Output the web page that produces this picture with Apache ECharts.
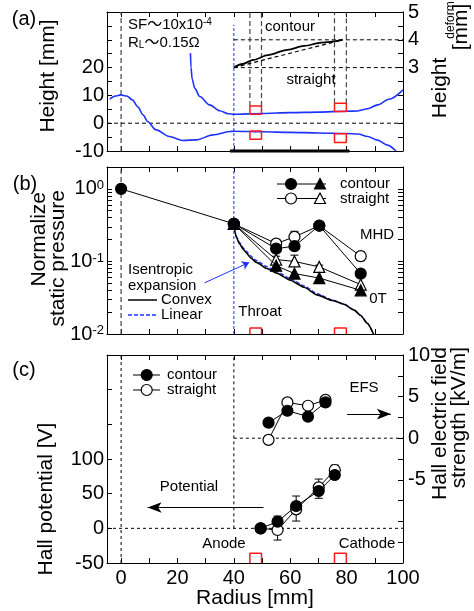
<!DOCTYPE html>
<html>
<head>
<meta charset="utf-8">
<title>MHD channel: height, pressure, Hall potential</title>
<script src="https://cdn.jsdelivr.net/npm/echarts@6.0.0/dist/echarts.min.js"></script>
<style>
  html, body { margin: 0; padding: 0; background: #fff; }
  #chart { width: 474px; height: 611px; }
</style>
</head>
<body>
<div id="chart"></div>
<script>
// ---------- (a) channel shape ----------
const lowerWallX = [-4.0, -2.0, -0.1, 2.0, 4.0, 6.0, 7.8, 9.4, 12.4, 17.1, 21.9, 26.7, 32.6, 38.6, 40, 50, 60, 70, 80, 84, 87.5, 91, 94.5, 97.5];
const lowerWallY = [8.7, 9.8, 10.2, 9.8, 8.4, 5.8, 3.0, 0.6, -2.4, -4.8, -6.2, -6.0, -4.2, -3.0, -2.9, -3.1, -3.3, -3.5, -3.7, -3.9, -4.8, -6.1, -7.9, -10];
const upperWallX = [24.6, 24.8, 25.2, 26.1, 27.9, 31.4, 35.0, 38.0, 40, 50, 60, 70, 80, 84, 87.5, 91, 95, 100];
const upperWallY = [25.2, 20.0, 16.0, 12.6, 9.6, 6.6, 4.5, 3.4, 3.2, 3.5, 3.8, 4.0, 4.3, 4.4, 5.2, 6.6, 8.6, 12.0];
// deformation of the electrode wall (right axis)
const contourDefX = [40, 43, 47, 52, 59, 65, 71, 78.6];
const contourDefY = [3.0, 3.13, 3.28, 3.45, 3.64, 3.78, 3.9, 4.0];
const straightDefX = [40, 78.6];
const straightDefY = [3.0, 4.0];
// electrodes
const elecX0 = [45.7, 75.7];
const elecX1 = [49.8, 79.9];
const elecUpTop = [6.2, 7.2];
const elecUpBot = [3.2, 4.2];
const elecLowTop = [-2.8, -3.8];
const elecLowBot = [-5.8, -6.9];
const measureRange = [38.6, 81.0];

// ---------- (b) static pressure ----------
const inletX = [0, 40];
const inletP = [1.0, 0.33];
const tapX = [40, 55, 61.5, 70.3, 85];
const contourMHD = [0.33, 0.150, 0.162, 0.312, 0.068];
const straightMHD = [0.33, 0.176, 0.218, 0.31, 0.118];
const contour0T = [0.33, 0.0875, 0.068, 0.059, 0.040];
const straight0T = [0.33, 0.106, 0.100, 0.084, 0.048];
const pErrX = [61.5, 55, 61.5, 70.3, 85];
const pErrLo = [0.19, 0.092, 0.086, 0.077, 0.102];
const pErrHi = [0.26, 0.118, 0.122, 0.089, 0.135];
const convexX = [40, 40.4, 41, 42, 43.5, 44.5, 46, 48, 51.7, 55.2, 60, 65, 69.5, 75, 79, 82.6, 85, 87.4, 89.5];
const convexP = [0.33, 0.25, 0.21, 0.175, 0.145, 0.13, 0.112, 0.097, 0.08, 0.069, 0.055, 0.044, 0.0346, 0.029, 0.0257, 0.0215, 0.018, 0.014, 0.01];
const linearX = [40, 40.4, 41, 42, 43.5, 44.5, 46, 48, 51.7, 55.2, 60, 65, 69.5, 75, 79, 82.6, 85, 87.4, 89.5];
const linearP = [0.33, 0.26, 0.22, 0.183, 0.152, 0.137, 0.119, 0.103, 0.085, 0.073, 0.058, 0.046, 0.036, 0.0295, 0.026, 0.0215, 0.018, 0.014, 0.01];

// ---------- (c) Hall potential / field ----------
const potX = [49.5, 55.5, 62.1, 70.1, 75.8];
const contourPot = [0, 9.6, 32.2, 53.8, 76.9];
const straightPot = [0, -2.4, 27.4, 59.1, 84.1];
const potErrLo = [-16.9, 10.5, 43.3, 76];
const potErrHi = [17.7, 46.6, 71.1, 91.3];
const potErrX = [55.5, 62.1, 70.1, 75.8];
const efsX = [52.3, 59.0, 66.3, 72.5];
const contourEfs = [1.87, 3.3, 2.6, 4.3];
const straightEfs = [-0.2, 4.3, 3.9, 4.6];

// ---------- ticks ----------
const radiusTicks = [0, 10, 20, 30, 40, 50, 60, 70, 80, 90, 100];
const radiusLabels = [0, 20, 40, 60, 80, 100];
const heightTicks = [-10, -5, 0, 5, 10, 15, 20, 25, 30, 35, 40];
const heightLabels = [-10, 0, 10, 20];
const deformTicks = [0, 0.5, 1, 1.5, 2, 2.5, 3, 3.5, 4, 4.5, 5];
const deformLabels = [3, 4, 5];
const pressTicks = [0.01, 0.02, 0.03, 0.04, 0.05, 0.06, 0.07, 0.08, 0.09, 0.1, 0.2, 0.3, 0.4, 0.5, 0.6, 0.7, 0.8, 0.9, 1, 2];
const pressLabels = [0.01, 0.1, 1];
const potTicks = [-50, 0, 50, 100, 150, 200, 250];
const potLabels = [-50, 0, 50, 100];
const efsTicks = [-15, -12.5, -10, -7.5, -5, -2.5, 0, 2.5, 5, 7.5, 10];
const efsLabels = [-5, 0, 5, 10];

const FONT = '"Liberation Sans", Arial, "Noto Sans CJK JP", sans-serif';
const BLUE = '#1e32ff';
const RED = '#ff1a1a';
const pts = (xs, ys) => xs.map((x, i) => [x, ys[i]]);

function xAx(grid, pos, labels) {
  return {
    type: 'value', gridIndex: grid, position: pos, min: -5, max: 100,
    axisLine: { onZero: false, lineStyle: { color: '#000', width: 1 } },
    axisTick: { inside: true, length: 5, customValues: radiusTicks, lineStyle: { color: '#000' } },
    axisLabel: { show: labels, customValues: radiusLabels, margin: 5, color: '#000', fontSize: 20, fontFamily: FONT },
    splitLine: { show: false }
  };
}
function yAx(grid, pos, min, max, ticks, labels, extra) {
  return Object.assign({
    type: 'value', gridIndex: grid, position: pos, min: min, max: max,
    axisLine: { onZero: false, lineStyle: { color: '#000', width: 1 } },
    axisTick: { inside: true, length: 5, customValues: ticks, lineStyle: { color: '#000' } },
    axisLabel: { show: !!labels, customValues: labels || [], margin: pos === 'left' ? 3 : 5, color: '#000', fontSize: 20, fontFamily: FONT },
    splitLine: { show: false }
  }, extra || {});
}
function logAx(pos, labels) {
  return {
    type: 'log', logBase: 10, gridIndex: 1, position: pos, min: 0.01, max: 2,
    axisLine: { onZero: false, lineStyle: { color: '#000', width: 1 } },
    axisTick: { inside: true, length: 5, customValues: pressTicks, lineStyle: { color: '#000' } },
    axisLabel: {
      show: labels, customValues: pressLabels, margin: 3, color: '#000', fontSize: 20, fontFamily: FONT,
      formatter: v => '10{sup|' + Math.round(Math.log10(v)) + '}',
      rich: { sup: { fontSize: 13, fontFamily: FONT, color: '#000', verticalAlign: 'top', lineHeight: 14 } }
    },
    splitLine: { show: false }
  };
}

function refLine(xi, yi, a, b, color, dash, width) {
  return { type: 'line', xAxisIndex: xi, yAxisIndex: yi, data: [a, b], symbol: 'none', silent: true,
    lineStyle: { color: color, width: width || 1, type: dash || 'solid' }, z: 1 };
}
function curve(xi, yi, data, color, width, dash, smooth) {
  return { type: 'line', xAxisIndex: xi, yAxisIndex: yi, data: data, symbol: 'none', silent: true,
    smooth: smooth || 0, smoothMonotone: 'x', lineStyle: { color: color, width: width, type: dash || 'solid' }, z: 2 };
}
function markers(xi, yi, data, symbol, filled) {
  return { type: 'line', xAxisIndex: xi, yAxisIndex: yi, data: data, symbol: symbol, symbolSize: 11,
    showAllSymbol: true, silent: true,
    lineStyle: { color: '#000', width: 1 },
    itemStyle: { color: filled ? '#000' : '#fff', borderColor: '#000', borderWidth: 1.2 }, z: filled ? 6 : 5 };
}
function box(xi, yi, x0, x1, y0, y1, closed) {
  const d = [[x0, y0], [x0, y1], [x1, y1], [x1, y0]];
  if (closed) d.push([x0, y0]);
  return { type: 'line', xAxisIndex: xi, yAxisIndex: yi, data: d, symbol: 'none', silent: true, clip: false,
    lineStyle: { color: RED, width: 1.5 }, z: 7 };
}
function errorBars(xi, yi, xs, lo, hi) {
  return {
    type: 'custom', xAxisIndex: xi, yAxisIndex: yi, silent: true, z: 4,
    data: xs.map((x, i) => [x, lo[i], hi[i]]),
    encode: { x: 0, y: [1, 2] },
    renderItem: (params, api) => {
      const a = api.coord([api.value(0), api.value(1)]);
      const b = api.coord([api.value(0), api.value(2)]);
      const w = 4, st = { stroke: '#000', lineWidth: 1 };
      return { type: 'group', children: [
        { type: 'line', shape: { x1: a[0], y1: a[1], x2: b[0], y2: b[1] }, style: st },
        { type: 'line', shape: { x1: a[0] - w, y1: a[1], x2: a[0] + w, y2: a[1] }, style: st },
        { type: 'line', shape: { x1: b[0] - w, y1: b[1], x2: b[0] + w, y2: b[1] }, style: st }
      ] };
    }
  };
}
function arrow(series, from, to, color, size) {
  series.markLine = {
    silent: true, animation: false, symbol: ['none', 'arrow'], symbolSize: size,
    label: { show: false }, lineStyle: { color: color, width: 1, type: 'solid' },
    data: [[{ coord: from }, { coord: to }]]
  };
  return series;
}

const series = [];
// (a)
series.push(refLine(0, 0, [0, -10], [0, 40], '#444', [5, 3], 1.2));
series.push(refLine(0, 0, [40, -10], [40, 35.4], BLUE, [3, 2], 1));
series.push(refLine(0, 0, [-5, 0], [100, 0], '#000', [4, 3], 1));
series.push(refLine(0, 1, [40, 4], [100, 4], '#000', [4, 3], 1));
series.push(refLine(0, 1, [40, 3], [100, 3], '#000', [4, 3], 1));
for (let i = 0; i < 2; i++) {
  series.push(refLine(0, 0, [elecX0[i], elecUpTop[i]], [elecX0[i], 40], '#444', [5, 3], 1.2));
  series.push(refLine(0, 0, [elecX1[i], elecUpTop[i]], [elecX1[i], 40], '#444', [5, 3], 1.2));
  series.push(box(0, 0, elecX0[i], elecX1[i], elecUpBot[i], elecUpTop[i], true));
  series.push(box(0, 0, elecX0[i], elecX1[i], elecLowTop[i], elecLowBot[i], true));
}
series.push(curve(0, 0, pts(lowerWallX, lowerWallY), BLUE, 1.6, 'solid', 0.3));
series.push(curve(0, 0, pts(upperWallX, upperWallY), BLUE, 1.6, 'solid', 0.3));
series.push(curve(0, 1, pts(contourDefX, contourDefY), '#000', 1.8, 'solid', 0.3));
series.push(curve(0, 1, pts(straightDefX, straightDefY), '#000', 1.2, [4, 3], 0));
const thick = refLine(0, 0, [measureRange[0], -10], [measureRange[1], -10], '#000', 'solid', 3);
thick.clip = false;
series.push(thick);

// (b)
series.push(refLine(2, 2, [0, 0.01], [0, 2], '#444', [5, 3], 1.2));
series.push(refLine(2, 2, [40, 0.01], [40, 2], BLUE, [3, 2], 1));
for (let i = 0; i < 2; i++) {
  series.push(box(2, 2, elecX0[i], elecX1[i], 0.01, 0.0121, false));
}
series.push(arrow(curve(2, 2, pts(linearX, linearP), BLUE, 1.3, [4, 2], 0.2), [29.6, 0.0507], [45.4, 0.0967], BLUE, 7));
series.push(curve(2, 2, pts(convexX, convexP), '#000', 1.6, 'solid', 0.2));
series.push(errorBars(2, 2, pErrX, pErrLo, pErrHi));
series.push(markers(2, 2, pts(tapX, straight0T), 'triangle', false));
series.push(markers(2, 2, pts(tapX, contour0T), 'triangle', true));
series.push(markers(2, 2, pts(tapX, straightMHD), 'circle', false));
series.push(markers(2, 2, pts(tapX, contourMHD), 'circle', true));
series.push(markers(2, 2, pts(inletX, inletP), 'circle', true));

// (c)
series.push(refLine(4, 4, [0, -50], [0, 250], '#000', [3, 3], 1));
series.push(refLine(4, 4, [40, 0], [40, 250], '#000', [3, 3], 1));
series.push(refLine(4, 4, [-5, 0], [100, 0], '#000', [3, 3], 1));
series.push(refLine(4, 5, [40, 0], [100, 0], '#000', [3, 3], 1));
for (let i = 0; i < 2; i++) {
  series.push(box(4, 4, elecX0[i], elecX1[i], -50, -36, false));
}
series.push(errorBars(4, 4, potErrX, potErrLo, potErrHi));
series.push(arrow(markers(4, 4, pts(potX, straightPot), 'circle', false), [50.5, 30], [9.4, 30], '#000', [8, 14]));
series.push(markers(4, 4, pts(potX, contourPot), 'circle', true));
series.push(arrow(markers(4, 5, pts(efsX, straightEfs), 'circle', false), [80.2, 2.9], [95.7, 2.9], '#000', [8, 14]));
series.push(markers(4, 5, pts(efsX, contourEfs), 'circle', true));

// ---------- text and legends ----------
const txt = (t, x, y, o) => {
  o = o || {};
  return { type: 'text', x: x, y: y, rotation: o.rot || 0, silent: true, z: 100,
    style: { text: t, fill: o.color || '#000', fontSize: o.size || 15, fontFamily: FONT,
      align: o.align || 'center', verticalAlign: 'middle', rich: o.rich } };
};
const richSS = {
  sup: { fontSize: 10, fontFamily: FONT, fill: '#000', verticalAlign: 'top', lineHeight: 10 },
  sub: { fontSize: 10, fontFamily: FONT, fill: '#000', verticalAlign: 'bottom', lineHeight: 10 }
};
const R = Math.PI / 2;
const ln = (x1, y1, x2, y2, color, dash, w) => ({ type: 'line', silent: true, z: 100,
  shape: { x1: x1, y1: y1, x2: x2, y2: y2 }, style: { stroke: color, lineWidth: w || 1, lineDash: dash || null } });
const dot = (cx, cy, filled) => ({ type: 'circle', silent: true, z: 101, shape: { cx: cx, cy: cy, r: 5.5 },
  style: { fill: filled ? '#000' : '#fff', stroke: '#000', lineWidth: 1.2 } });
const tri = (cx, cy, filled) => ({ type: 'polygon', silent: true, z: 101,
  shape: { points: [[cx, cy - 5.5], [cx + 5.5, cy + 5], [cx - 5.5, cy + 5]] },
  style: { fill: filled ? '#000' : '#fff', stroke: '#000', lineWidth: 1.2 } });

const graphic = [
  txt('(a)', 24, 19, { size: 20 }),
  txt('(b)', 25, 184, { size: 20 }),
  txt('(c)', 24, 370, { size: 20 }),
  // axis titles
  txt('Height [mm]', 48, 76, { size: 21, rot: R }),
  txt('Height', 440, 88, { size: 21, rot: R }),
  txt('deform', 451, 20, { size: 12, rot: R }),
  txt('[mm]', 461, 27, { size: 21, rot: R }),
  txt('Normalize', 39, 192, { size: 21, rot: R, align: 'right' }),
  txt('static pressure', 58, 190, { size: 21, rot: R, align: 'right' }),
  txt('Hall potential [V]', 46, 499, { size: 21, rot: R }),
  txt('Hall electric field', 440, 347, { size: 21, rot: R, align: 'right' }),
  txt('strength [kV/m]', 459, 347, { size: 21, rot: R, align: 'right' }),
  txt('Radius [mm]', 255, 598, { size: 21 }),
  // (a) notes
  txt('SF～10x10{sup|-4}', 128, 25, { align: 'left', rich: richSS }),
  txt('R{sub|L}～0.15Ω', 128, 43, { align: 'left', rich: richSS }),
  txt('contour', 290, 27),
  txt('straight', 311, 80),
  // (b) notes
  txt('MHD', 377, 235),
  txt('0T', 378, 299),
  txt('Throat', 260, 312),
  txt('Isentropic', 128, 270, { align: 'left' }),
  txt('expansion', 128, 286, { align: 'left' }),
  ln(128, 300, 157, 300, '#000', null, 1.5),
  txt('Convex', 161, 300, { align: 'left' }),
  ln(128, 315, 157, 315, BLUE, [4, 2], 1.3),
  txt('Linear', 161, 315, { align: 'left' }),
  ln(277, 184, 326, 184, '#000'), dot(291, 184, true), tri(320, 184, true),
  txt('contour', 340, 184, { align: 'left' }),
  ln(277, 198.5, 326, 198.5, '#000'), dot(291, 198.5, false), tri(320, 198.5, false),
  txt('straight', 340, 198.5, { align: 'left' }),
  // (c) notes
  ln(133, 375, 160, 375, '#000'), dot(146.7, 375, true),
  txt('contour', 167, 375, { align: 'left' }),
  ln(133, 390, 160, 390, '#000'), dot(146.7, 390, false),
  txt('straight', 167, 390, { align: 'left' }),
  txt('Potential', 189, 487),
  txt('EFS', 364, 388),
  txt('Anode', 224, 544),
  txt('Cathode', 367, 544)
];

const option = {
  animation: false,
  backgroundColor: '#fff',
  grid: [
    { left: 107, top: 12, width: 296, height: 139 },
    { left: 107, top: 167, width: 296, height: 167 },
    { left: 107, top: 355, width: 296, height: 208 }
  ],
  xAxis: [xAx(0, 'bottom', false), xAx(0, 'top', false), xAx(1, 'bottom', false), xAx(1, 'top', false), xAx(2, 'bottom', true), xAx(2, 'top', false)],
  yAxis: [
    yAx(0, 'left', -10, 40, heightTicks, heightLabels),
    yAx(0, 'right', 0, 5, deformTicks, deformLabels),
    logAx('left', true),
    logAx('right', false),
    yAx(2, 'left', -50, 250, potTicks, potLabels),
    yAx(2, 'right', -15, 10, efsTicks, efsLabels)
  ],
  series: series,
  graphic: graphic
};

const chart = echarts.init(document.getElementById('chart'));
chart.setOption(option);
</script>
</body>
</html>
